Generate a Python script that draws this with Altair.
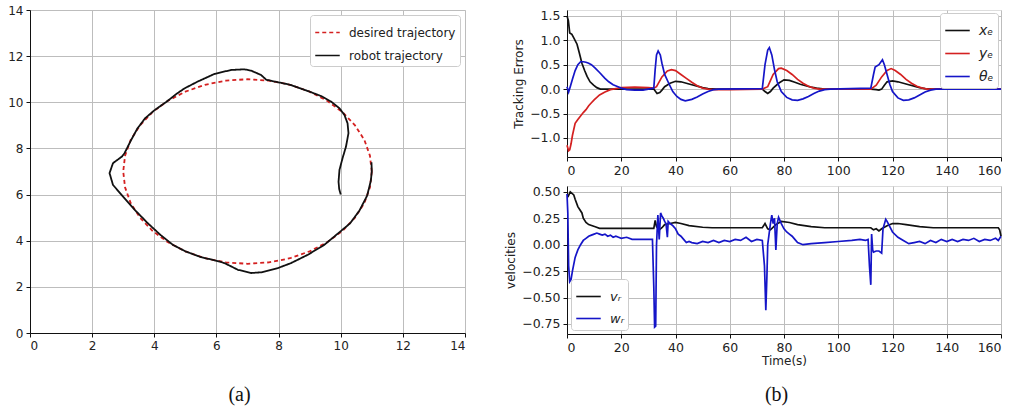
import altair as alt
import pandas as pd

# ---------------- Panel (a): trajectories ----------------
desired_x = [11.0, 10.94, 10.76, 10.46, 10.06, 9.57, 9.0, 8.37, 7.69, 7.0, 6.31, 5.63, 5.0, 4.43, 3.94,
             3.54, 3.24, 3.06, 3.0, 3.06, 3.24, 3.54, 3.94, 4.43, 5.0, 5.63, 6.31, 7.0, 7.69, 8.37,
             9.0, 9.57, 10.06, 10.46, 10.76, 10.94, 11.0]
desired_y = [7.0, 7.69, 8.37, 9.0, 9.57, 10.06, 10.46, 10.76, 10.94, 11.0, 10.94, 10.76, 10.46, 10.06, 9.57,
             9.0, 8.37, 7.69, 7.0, 6.31, 5.63, 5.0, 4.43, 3.94, 3.54, 3.24, 3.06, 3.0, 3.06, 3.24,
             3.54, 3.94, 4.43, 5.0, 5.63, 6.31, 7.0]

robot_x = [10.0, 9.95, 9.93, 9.96, 10.06, 10.17, 10.25, 10.22, 10.12, 9.96, 9.69, 9.37, 9.0, 8.37, 7.8,
           7.6, 7.44, 7.12, 6.9, 6.47, 5.94, 5.4, 4.97, 4.7, 4.4, 4.0, 3.7, 3.45, 3.25, 3.1, 3.04,
           2.96, 2.67, 2.56, 2.67, 2.99, 3.37, 3.79, 4.2, 4.6, 5.0, 5.5, 6.0, 6.26, 6.69, 7.12, 7.44,
           7.97, 8.4, 8.94, 9.47, 9.9, 10.3, 10.6, 10.85, 10.97, 11.0, 10.99]
robot_y = [6.0, 6.25, 6.56, 7.07, 7.58, 8.08, 8.66, 9.09, 9.45, 9.74, 10.03, 10.27, 10.46, 10.76, 10.92,
           10.98, 11.18, 11.37, 11.43, 11.4, 11.23, 10.9, 10.6, 10.35, 10.03, 9.65, 9.3, 8.85, 8.35,
           7.95, 7.79, 7.65, 7.36, 6.93, 6.42, 5.92, 5.34, 4.76, 4.25, 3.82, 3.54, 3.29, 3.13, 3.03,
           2.74, 2.6, 2.63, 2.81, 3.03, 3.39, 3.82, 4.3, 4.75, 5.3, 5.95, 6.6, 7.0, 7.4]

traj_names = ["desired trajectory", "robot trajectory"]

# ---------------- Panel (b) top: tracking errors ----------------
xe_t = [0, 0.5, 1, 1.8, 2.5, 3.7, 4.5, 5.5, 6.5, 7.4, 8.5, 9.8, 11, 12.3, 14, 20, 30, 32, 33.2, 34.2, 35,
        36, 38, 40, 42, 44, 46, 48, 50, 52, 55, 72, 73, 74, 75, 76, 78, 80, 82, 84, 86, 88, 90, 92,
        95, 112, 114, 115, 116, 117, 118, 120, 122, 124, 126, 128, 130, 132, 135, 160]
xe_v = [1.5, 1.4, 1.15, 1.12, 1.05, 0.92, 0.75, 0.53, 0.38, 0.26, 0.15, 0.08, 0.03, 0.0, 0.0, 0.0, 0.0, 0.0,
        -0.09, -0.07, -0.02, 0.05, 0.12, 0.16, 0.15, 0.12, 0.09, 0.06, 0.03, 0.01, 0.0, 0.0, -0.05,
        -0.09, -0.05, 0.02, 0.12, 0.19, 0.18, 0.14, 0.1, 0.07, 0.04, 0.02, 0.0, 0.0, -0.01, -0.02, 0.0,
        0.08, 0.15, 0.17, 0.15, 0.12, 0.09, 0.06, 0.03, 0.01, 0.0, 0.0]

ye_t = [0, 0.6, 1, 1.5, 2, 3, 4, 5, 6, 7, 8, 9, 10, 12, 14, 16, 18, 20, 25, 30, 32, 33, 35, 37, 38.5,
        40, 42, 44, 46, 48, 50, 52, 54, 60, 72, 74, 76, 78, 79, 81, 83, 85, 87, 89, 91, 93, 112, 114,
        116, 118, 119.5, 121, 123, 125, 127, 129, 131, 133, 160]
ye_v = [-1.15, -1.26, -1.24, -1.12, -0.95, -0.7, -0.62, -0.55, -0.48, -0.42, -0.34, -0.28, -0.22, -0.12,
        -0.06, -0.01, 0.01, 0.03, 0.04, 0.03, 0.02, 0.05, 0.25, 0.37, 0.4, 0.38, 0.3, 0.22, 0.14,
        0.07, 0.02, 0.0, -0.01, -0.01, 0.0, 0.05, 0.3, 0.42, 0.43, 0.38, 0.3, 0.2, 0.12, 0.06, 0.02,
        0.0, 0.0, 0.08, 0.25, 0.38, 0.42, 0.38, 0.3, 0.2, 0.12, 0.06, 0.02, 0.0, 0.0]

the_t = [0, 0.6, 1.2, 2, 3, 4, 5, 6, 7, 8, 9, 10.4, 12, 14, 15.4, 17, 18.8, 20, 22, 25, 28, 30, 32,
         32.5, 33, 33.6, 34.4, 35, 36, 37.5, 39, 40.5, 42, 43.6, 46, 48, 50, 52, 54, 56, 72, 73,
         74, 74.6, 75.5, 76.5, 77.5, 79, 81, 83, 85, 87, 89, 91, 93, 95, 97, 112, 113, 113.6,
         115, 116.3, 117, 118, 119, 120, 122, 124, 126, 128, 130, 132, 134, 136, 160]
the_v = [0.05, -0.06, 0.05, 0.2, 0.38, 0.5, 0.56, 0.56, 0.55, 0.53, 0.5, 0.43, 0.34, 0.22, 0.15,
         0.09, 0.05, 0.02, -0.01, -0.02, -0.02, 0.0, 0.02, 0.4, 0.7, 0.78, 0.7, 0.53, 0.3, 0.12,
         -0.05, -0.15, -0.21, -0.24, -0.21, -0.16, -0.1, -0.05, -0.01, 0.0, 0.01, 0.5, 0.8, 0.85,
         0.7, 0.4, 0.15, -0.05, -0.17, -0.22, -0.23, -0.2, -0.15, -0.09, -0.04, -0.01, 0.0, 0.02,
         0.3, 0.45, 0.5, 0.6, 0.5, 0.3, 0.1, -0.05, -0.18, -0.23, -0.22, -0.18, -0.12, -0.06,
         -0.02, 0.0, 0.0]

err_names = ["xₑ", "yₑ", "θₑ"]

# ---------------- Panel (b) bottom: velocities ----------------
vr_t = [0.3, 1.2, 2.5, 3, 4, 5.5, 6, 7, 8, 10.4, 12, 20, 32, 32.5, 33, 34, 35, 36, 38, 40, 42, 45,
        50, 53.5, 72, 73, 74, 75, 77, 79, 82, 85, 90, 95, 112, 113, 114, 115, 116, 118, 120, 122,
        125, 130, 135, 159, 159.5, 160]
vr_v = [0.45, 0.5, 0.47, 0.43, 0.36, 0.3, 0.25, 0.21, 0.19, 0.17, 0.155, 0.155, 0.155, 0.23, 0.17,
        0.14, 0.16, 0.19, 0.2, 0.21, 0.2, 0.18, 0.165, 0.16, 0.16, 0.2, 0.15, 0.14, 0.19, 0.22, 0.21,
        0.19, 0.17, 0.16, 0.16, 0.14, 0.15, 0.13, 0.15, 0.18, 0.2, 0.2, 0.19, 0.17, 0.16, 0.16, 0.14,
        0.08]

wr_t = [0, 0.3, 0.6, 1, 1.5, 2, 3, 4, 5, 6, 7, 8, 9, 10, 11, 12, 13, 14, 15, 16, 17, 18, 19, 20,
        22, 24, 26, 28, 30, 31.5, 32, 32.3, 32.7, 33, 33.5, 34, 34.5, 35, 35.5, 36, 36.5, 37, 37.3,
        38, 39, 40, 41, 42, 43, 44, 45, 46, 48, 50, 52, 54, 56, 58, 60, 62, 64, 66, 68, 70, 72,
        72.8, 73.3, 73.7, 74, 74.5, 75, 75.5, 76, 76.5, 77, 77.5, 78, 79, 80, 81, 82, 83, 84, 85,
        87, 90, 95, 100, 105, 108, 110, 111, 111.5, 112, 112.3, 112.7, 113, 114, 115, 116, 116.5,
        117.5, 118, 119, 120, 122, 124, 126, 128, 130, 132, 134, 136, 138, 140, 142, 144, 146, 148,
        150, 152, 154, 156, 158, 159, 160]
wr_v = [0.48, 0.3, -0.2, -0.35, -0.33, -0.25, -0.12, -0.05, 0.0, 0.04, 0.06, 0.08, 0.09, 0.1, 0.11,
        0.1, 0.09, 0.1, 0.08, 0.09, 0.07, 0.08, 0.07, 0.06, 0.07, 0.05, 0.05, 0.05, 0.05, 0.05, -0.4,
        -0.78, -0.77, 0.0, 0.28, 0.05, 0.3, 0.27, 0.25, 0.22, 0.2, 0.07, 0.22, 0.2, 0.18, 0.15, 0.1,
        0.08, 0.05, 0.02, 0.03, 0.02, 0.01, 0.03, 0.02, 0.04, 0.02, 0.04, 0.03, 0.05, 0.04, 0.07,
        0.03, 0.05, 0.04, -0.2, -0.62, -0.3, 0.0, 0.1, 0.2, 0.28, 0.2, 0.25, -0.05, 0.2, 0.26, 0.2,
        0.15, 0.12, 0.1, 0.08, 0.05, 0.02, 0.0, 0.01, 0.02, 0.03, 0.04, 0.05, 0.04, 0.05, -0.2, -0.38,
        0.1, -0.05, -0.07, -0.06, -0.06, -0.08, 0.15, 0.24, 0.22, 0.17, 0.12, 0.07, 0.04, 0.01, 0.02,
        0.03, 0.01, 0.04, 0.02, 0.05, 0.03, 0.05, 0.03, 0.05, 0.04, 0.06, 0.03, 0.05, 0.04, 0.06,
        0.04, 0.08]

vel_names = ["vᵣ", "wᵣ"]

# ---------------- colours / styling ----------------
BLACK = "#111111"
RED = "#d42020"
BLUE = "#1515c8"
GRID = "#bdbdbd"
FONT = "DejaVu Sans"


def long_df(pairs):
    rows = []
    for name, xs, ys in pairs:
        for i, (a, b) in enumerate(zip(xs, ys)):
            rows.append({"series": name, "x": a, "y": b, "i": i})
    return pd.DataFrame(rows)


traj_df = long_df([(traj_names[0], desired_x, desired_y), (traj_names[1], robot_x, robot_y)])
err_df = long_df([(err_names[0], xe_t, xe_v), (err_names[1], ye_t, ye_v), (err_names[2], the_t, the_v)])
vel_df = long_df([(vel_names[0], vr_t, vr_v), (vel_names[1], wr_t, wr_v)])


def legend(orient, italic=False, offset=6, size=12, row_pad=4, pad=5):
    kw = dict(orient=orient, title=None, fillColor="white", strokeColor="#cccccc",
              padding=pad, cornerRadius=3, symbolType="stroke", symbolSize=600,
              symbolStrokeWidth=1.6, labelFontSize=size, labelFont=FONT, labelColor="#222",
              rowPadding=row_pad, offset=offset, labelOffset=8)
    if italic:
        kw["labelFontStyle"] = "italic"
    return alt.Legend(**kw)


axis_common = dict(gridColor=GRID, gridWidth=1, domainColor=BLACK, tickColor=BLACK,
                   tickSize=4, labelFont=FONT, labelColor="#222", labelPadding=3)

# Panel (a)
left = alt.Chart(traj_df).mark_line(strokeWidth=1.8).encode(
    x=alt.X("x:Q", scale=alt.Scale(domain=[0, 14], nice=False),
            axis=alt.Axis(values=list(range(0, 15, 2)), title=None, labelFontSize=12, **axis_common)),
    y=alt.Y("y:Q", scale=alt.Scale(domain=[0, 14], nice=False),
            axis=alt.Axis(values=list(range(0, 15, 2)), title=None, labelFontSize=12, **axis_common)),
    color=alt.Color("series:N", scale=alt.Scale(domain=traj_names, range=[RED, BLACK]),
                    legend=legend("top-right", offset=5, size=12, row_pad=3, pad=4)),
    strokeDash=alt.StrokeDash("series:N", scale=alt.Scale(domain=traj_names, range=[[4, 3], [1, 0]]),
                              legend=legend("top-right", offset=5, size=12, row_pad=3, pad=4)),
    order="i:Q",
).properties(width=435, height=323,
             title=alt.TitleParams("(a)", orient="bottom", anchor="middle", font="Liberation Serif",
                                   fontSize=20, fontWeight="normal", color="#111", offset=34, dx=-8))

# Panel (b) top
top = alt.Chart(err_df).mark_line(strokeWidth=1.7).encode(
    x=alt.X("x:Q", scale=alt.Scale(domain=[0, 160], nice=False),
            axis=alt.Axis(values=list(range(0, 161, 20)), title=None, labelFontSize=12.5, **axis_common)),
    y=alt.Y("y:Q", scale=alt.Scale(domain=[-1.39, 1.62], nice=False),
            axis=alt.Axis(values=[-1.0, -0.5, 0.0, 0.5, 1.0, 1.5], format=".1f", title="Tracking Errors",
                          titleFont=FONT, titleFontSize=12, titleFontWeight="normal", titleColor="#222",
                          labelFontSize=12.5, **axis_common)),
    color=alt.Color("series:N", scale=alt.Scale(domain=err_names, range=[BLACK, RED, BLUE]),
                    legend=legend("top-right", italic=True, offset=3, size=14, row_pad=2, pad=4)),
    order="i:Q",
).properties(width=434, height=147)

# Panel (b) bottom
bottom = alt.Chart(vel_df).mark_line(strokeWidth=1.7).encode(
    x=alt.X("x:Q", scale=alt.Scale(domain=[0, 160], nice=False),
            axis=alt.Axis(values=list(range(0, 161, 20)), title="Time(s)", titleFont=FONT,
                          titleFontSize=12, titleFontWeight="normal", titleColor="#222", titlePadding=2,
                          labelFontSize=12.5, **axis_common)),
    y=alt.Y("y:Q", scale=alt.Scale(domain=[-0.845, 0.555], nice=False),
            axis=alt.Axis(values=[-0.75, -0.5, -0.25, 0.0, 0.25, 0.5], format=".2f", title="velocities",
                          titleFont=FONT, titleFontSize=12, titleFontWeight="normal", titleColor="#222",
                          labelFontSize=12.5, **axis_common)),
    color=alt.Color("series:N", scale=alt.Scale(domain=vel_names, range=[BLACK, BLUE]),
                    legend=legend("bottom-left", italic=True, offset=4, size=13, row_pad=1, pad=4)),
    order="i:Q",
).properties(width=434, height=148)

right = alt.vconcat(top, bottom, spacing=8).resolve_scale(color="independent").properties(
    title=alt.TitleParams("(b)", orient="bottom", anchor="middle", font="Liberation Serif", fontSize=20,
                          fontWeight="normal", color="#111", offset=18, dx=22)
)

chart = alt.hconcat(left, right, spacing=38).resolve_scale(color="independent", strokeDash="independent").properties(
    padding={"left": 7, "top": 3, "right": 3, "bottom": 5}
).configure_view(stroke=BLACK, strokeWidth=1).configure(background="white")

chart.save("out.html", embed_options={"renderer": "svg", "actions": False})
